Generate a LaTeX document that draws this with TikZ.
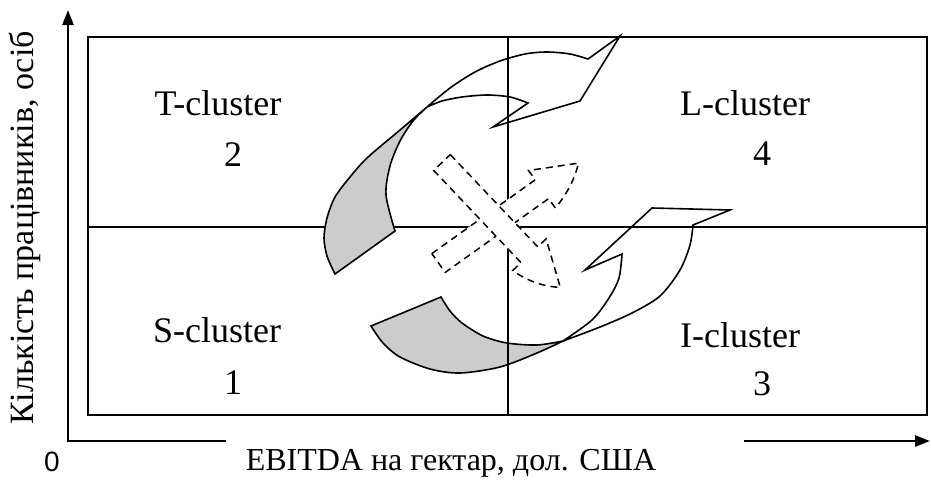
\documentclass[tikz,border=0pt]{standalone}
\usepackage{fontspec}
\setmainfont{Liberation Serif}
\newfontfamily\zerofont{Liberation Sans}
\usetikzlibrary{arrows.meta}
\begin{document}
\begin{tikzpicture}[x=1pt,y=-1pt,
  frame/.style={line width=1.5pt},
  axisline/.style={line width=2.8pt, line join=miter},
  axistip/.tip={Triangle[length=15pt,width=11pt]},
  ribbon/.style={line width=1.6pt, line join=miter},
  backside/.style={ribbon, fill=black!20},
  dasharrow/.style={line width=1.5pt, dash pattern=on 7pt off 5pt, fill=white, line join=miter},
  cluster/.style={font=\fontsize{36}{40}\selectfont, anchor=base, inner sep=0pt},
]
\useasboundingbox (0,0) rectangle (931,485);

% axes
\coordinate (O) at (68,441);
\coordinate (ytip) at (68,10);
\coordinate (xa) at (226,441);
\coordinate (xb) at (744,441);
\coordinate (xtip) at (930,441);
\draw[axisline, axistip-] (ytip) -- (O) -- (xa);
\draw[axisline, -axistip] (xb) -- (xtip);

% quadrant frame and horizontal divider
\draw[frame] (88,37) rectangle (927,415);
\draw[frame] (88,227) -- (927,227);

% upper ribbon arrow: back side (grey) and front side
\filldraw[backside] plot[smooth] coordinates {(335,274) (327,256) (324,238) (327,218) (335,197) (350,177) (367,158) (400,130) (427,107)}
  -- plot[smooth] coordinates {(427,107) (413,121) (400,141) (390,166) (386,195) (395,231)} -- cycle;
\draw[ribbon] plot[smooth] coordinates {(427,107) (450,88) (475,72) (500,61) (525,54) (547,52) (570,54) (588,59)}
  -- (620,36) -- (580,101) -- (493,127) -- (528,103)
  -- plot[smooth] coordinates {(528,103) (510,97) (487,95) (462,97) (442,101) (427,107)};

% lower ribbon arrow: back side (grey) and front side
\filldraw[backside] (371,326) -- (441,297)
  -- plot[smooth] coordinates {(441,297) (450,311) (462,323) (483,336) (507,343) (537,345) (563,341)}
  -- plot[smooth] coordinates {(563,341) (537,353) (500,367) (460,373) (430,369) (400,357) (383,343) (371,326)} -- cycle;
\draw[ribbon] plot[smooth] coordinates {(563,341) (600,327) (632,313) (660,296) (680,270) (690,245) (693,225)}
  -- (730,210) -- (652,208) -- (585,270) -- (622,254)
  -- plot[smooth] coordinates {(622,254) (619,278) (609,298) (592,320) (563,341)};

% vertical divider
\draw[frame] (508,37) -- (508,415);

% dashed crossed arrows
\filldraw[dasharrow] (431.8,253.6) -- (535.2,179.8) -- (528.5,170.5) -- (578.5,163.1)
  .. controls (574.4,179.8) and (566.6,194.8) .. (555.3,207.9) -- (548.6,198.6) -- (445.2,272.4) -- cycle;
\filldraw[dasharrow] (450.3,154.6) -- (537.7,246.8) -- (546.1,238.9) -- (560.3,287.4)
  .. controls (542.7,286.5) and (526.9,280.8) .. (512.7,270.5) -- (521.0,262.6) -- (433.7,170.4) -- cycle;

% quadrant labels
\node[cluster] (tname) at (218,115) {T-cluster};
\node[cluster] (tnum) at (233,166) {2};
\node[cluster] (lname) at (745,115) {L-cluster};
\node[cluster] (lnum) at (762,165) {4};
\node[cluster] (sname) at (217,342) {S-cluster};
\node[cluster] (snum) at (233,394) {1};
\node[cluster] (iname) at (740,347) {I-cluster};
\node[cluster] (inum) at (762,395) {3};

% axis labels
\node[font=\fontsize{32}{36}\selectfont, inner sep=0pt] (xlabel) at (451,463) {EBITDA на гектар, дол. США};
\node[font=\fontsize{34}{37}\selectfont, inner sep=0pt, rotate=90] (ylabel) at (25,228) {Кількість працівників, осіб};
\node[font=\zerofont\fontsize{28}{31}\selectfont, inner sep=0pt] (zero) at (52,462) {0};
\end{tikzpicture}
\end{document}
